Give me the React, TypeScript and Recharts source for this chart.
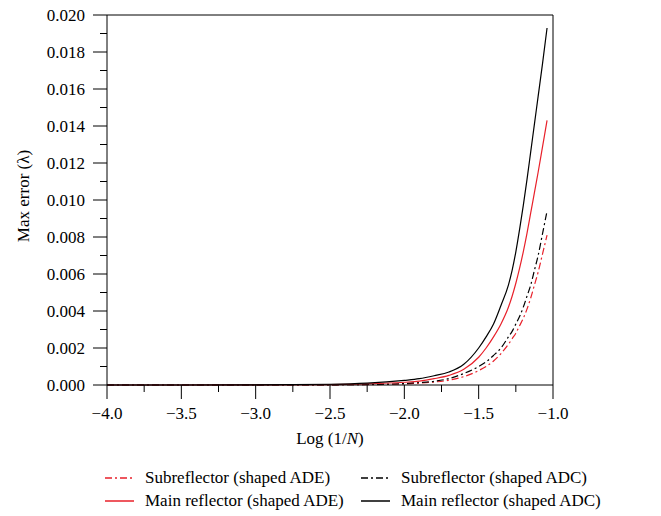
import { Line, LineChart, ReferenceLine, XAxis, YAxis } from 'recharts';

const logN = [-4.0, -3.5, -3.0, -2.5, -2.25, -2.0, -1.9, -1.8, -1.7, -1.6, -1.5, -1.45, -1.4, -1.35, -1.3, -1.275, -1.25, -1.225, -1.2, -1.175, -1.15, -1.125, -1.1, -1.07, -1.04];

const subADE = [0, 0, 0, 0.00001, 0.00002, 0.00006, 0.0001, 0.00016, 0.00026, 0.00045, 0.00078, 0.001, 0.0013, 0.0017, 0.0022, 0.0025, 0.0028, 0.0032, 0.0036, 0.0041, 0.0047, 0.0054, 0.0061, 0.0071, 0.0081];
const mainADE = [0, 0, 0.00001, 0.00002, 0.00006, 0.00015, 0.00021, 0.00034, 0.00052, 0.00085, 0.0015, 0.002, 0.0026, 0.0033, 0.0042, 0.0048, 0.0055, 0.0063, 0.0072, 0.0082, 0.0093, 0.0104, 0.0115, 0.0129, 0.0143];
const subADC = [0, 0, 0, 0.00001, 0.00003, 0.00008, 0.00013, 0.0002, 0.00035, 0.00062, 0.001, 0.00125, 0.0016, 0.002, 0.0026, 0.0029, 0.0033, 0.0037, 0.0042, 0.0048, 0.0054, 0.0062, 0.007, 0.0082, 0.0094];
const mainADC = [0, 0, 0.00001, 0.00004, 0.0001, 0.00025, 0.00034, 0.0005, 0.0007, 0.00112, 0.002, 0.0026, 0.0033, 0.0043, 0.0054, 0.0062, 0.0072, 0.0084, 0.0097, 0.0111, 0.0126, 0.0141, 0.0156, 0.0174, 0.0193];

const xTicks = [-4, -3.75, -3.5, -3.25, -3, -2.75, -2.5, -2.25, -2, -1.75, -1.5, -1.25, -1];
const xLabels = ['−4.0', '', '−3.5', '', '−3.0', '', '−2.5', '', '−2.0', '', '−1.5', '', '−1.0'];
const yTicks = [0, 0.001, 0.002, 0.003, 0.004, 0.005, 0.006, 0.007, 0.008, 0.009, 0.01, 0.011, 0.012, 0.013, 0.014, 0.015, 0.016, 0.017, 0.018, 0.019, 0.02];
const yLabels = ['0.000', '', '0.002', '', '0.004', '', '0.006', '', '0.008', '', '0.010', '', '0.012', '', '0.014', '', '0.016', '', '0.018', '', '0.020'];

const RED = '#e8202a';
const FONT = '"Liberation Serif", "Times New Roman", serif';
const FS = 17;
const DASH = '7 3 2 3';

const data = logN.map((x, i) => ({
  x,
  subADE: subADE[i],
  mainADE: mainADE[i],
  subADC: subADC[i],
  mainADC: mainADC[i],
}));

function YTick({ x, y, index }: any) {
  const label = yLabels[index];
  const len = label ? 14 : 7;
  return (
    <g>
      <line x1={x} x2={x - len} y1={y} y2={y} stroke='#000' strokeWidth={1} />
      {label && (
        <text x={x - 22} y={y} textAnchor='end' dominantBaseline='central' fontSize={FS} fontFamily={FONT} fill='#000'>
          {label}
        </text>
      )}
    </g>
  );
}

function XTick({ x, y, index }: any) {
  const label = xLabels[index];
  const len = label ? 14 : 7;
  return (
    <g>
      <line x1={x} x2={x} y1={y} y2={y + len} stroke='#000' strokeWidth={1} />
      {label && (
        <text x={x} y={y + 28} textAnchor='middle' dominantBaseline='central' fontSize={FS} fontFamily={FONT} fill='#000'>
          {label}
        </text>
      )}
    </g>
  );
}

function XTitle({ viewBox }: any) {
  const cx = viewBox.x + viewBox.width / 2;
  return (
    <text x={cx} y={viewBox.y + 53} textAnchor='middle' dominantBaseline='central' fontSize={FS} fontFamily={FONT} fill='#000'>
      Log (1/<tspan fontStyle='italic'>N</tspan>)
    </text>
  );
}

function YTitle({ viewBox }: any) {
  const cy = viewBox.y + viewBox.height / 2 - 4;
  return (
    <text x={23} y={cy} transform={`rotate(-90 23 ${cy})`} textAnchor='middle' dominantBaseline='central' fontSize={FS} fontFamily={FONT} fill='#000'>
      Max error (λ)
    </text>
  );
}

const legendItems = [
  { name: 'Subreflector (shaped ADE)', color: RED, dash: DASH, left: 105, top: 478 },
  { name: 'Subreflector (shaped ADC)', color: '#000', dash: DASH, left: 361, top: 478 },
  { name: 'Main reflector (shaped ADE)', color: RED, dash: undefined, left: 105, top: 501 },
  { name: 'Main reflector (shaped ADC)', color: '#000', dash: undefined, left: 361, top: 501 },
];

export default function App() {
  return (
    <div style={{ position: 'absolute', left: 0, top: 0, width: 661, height: 516, background: '#fff' }}>
      <LineChart width={661} height={516} data={data} margin={{ top: 15, right: 108, left: 0, bottom: 71 }}>
        <XAxis
          dataKey='x'
          type='number'
          domain={[-4, -1]}
          ticks={xTicks}
          interval={0}
          tickSize={0}
          tickMargin={0}
          tickLine={false}
          axisLine={{ stroke: '#000' }}
          tick={<XTick />}
          height={60}
          label={<XTitle />}
        />
        <YAxis
          type='number'
          domain={[0, 0.02]}
          ticks={yTicks}
          interval={0}
          tickSize={0}
          tickMargin={0}
          tickLine={false}
          axisLine={{ stroke: '#000' }}
          tick={<YTick />}
          width={107}
          label={<YTitle />}
        />
        <ReferenceLine y={0.02} stroke='#000' />
        <ReferenceLine x={-1} stroke='#000' />
        <Line type='monotone' dataKey='subADE' stroke={RED} strokeWidth={1.2} strokeDasharray={DASH} dot={false} isAnimationActive={false} />
        <Line type='monotone' dataKey='subADC' stroke='#000' strokeWidth={1.2} strokeDasharray={DASH} dot={false} isAnimationActive={false} />
        <Line type='monotone' dataKey='mainADE' stroke={RED} strokeWidth={1.2} dot={false} isAnimationActive={false} />
        <Line type='monotone' dataKey='mainADC' stroke='#000' strokeWidth={1.2} dot={false} isAnimationActive={false} />
      </LineChart>
      {legendItems.map((item) => (
        <div
          key={item.name}
          style={{
            position: 'absolute',
            left: item.left,
            top: item.top - 11,
            height: 22,
            display: 'flex',
            alignItems: 'center',
            fontFamily: FONT,
            fontSize: FS,
            color: '#000',
            whiteSpace: 'nowrap',
          }}
        >
          <svg width={29} height={4} style={{ marginRight: 11 }}>
            <line x1={0} x2={29} y1={2} y2={2} stroke={item.color} strokeWidth={1.5} strokeDasharray={item.dash} />
          </svg>
          {item.name}
        </div>
      ))}
    </div>
  );
}
